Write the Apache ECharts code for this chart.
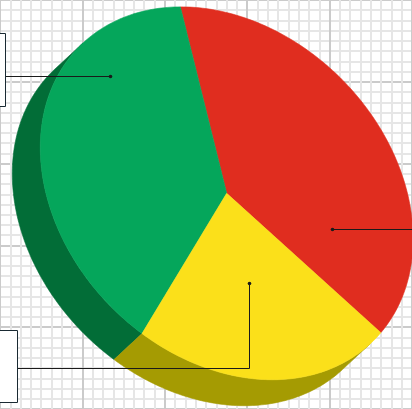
<!DOCTYPE html>
<html><head><meta charset="utf-8">
<script src="https://cdn.jsdelivr.net/npm/echarts@6/dist/echarts.min.js"></script>
<style>html,body{margin:0;padding:0;background:#fff}#c{width:412px;height:409px}</style>
</head><body><div id="c"></div>
<script>
// ---- data ----
const categories = ['Red', 'Green', 'Yellow'];
const values = [38.5, 38.5, 23.0];
const topColors = ['#E02D1F', '#05A65B', '#FBE01A'];
const sideColors = ['#9C1F14', '#026D37', '#A59B02'];
// label anchor: position within slice (0..1 of its angle) and radial fraction
const labelAnglePos = [0.794, 0.729, 0.497];
const labelRadial = [0.569, 0.795, 0.483];

// ---- pie geometry (tilted disc) ----
const PIE = {cx: 226.7, cy: 193.3, a: 208, b: 162, phi: 45, dx: -28, dy: 26, start: 356.3};
const total = values.reduce((s, v) => s + v, 0);
const spans = [];
(function () { let acc = PIE.start; values.forEach(v => { const e = acc - v / total * 360; spans.push([e, acc]); acc = e; }); })();
const ph = PIE.phi * Math.PI / 180;
const U = [Math.cos(ph), Math.sin(ph)], V = [-Math.sin(ph), Math.cos(ph)];
function P(t, f) {
  f = f == null ? 1 : f;
  const r = t * Math.PI / 180;
  const A = PIE.a * f * Math.cos(r), B = PIE.b * f * Math.sin(r);
  return [PIE.cx + A * U[0] + B * V[0], PIE.cy + A * U[1] + B * V[1]];
}
const du = PIE.dx * U[0] + PIE.dy * U[1], dv = PIE.dx * V[0] + PIE.dy * V[1];
const psi = Math.atan2(PIE.a * dv, PIE.b * du) * 180 / Math.PI;
function arc(s, e) { const pts = []; const n = Math.max(2, Math.ceil((e - s) / 1)); for (let i = 0; i <= n; i++) pts.push(P(s + (e - s) * i / n)); return pts; }

function renderWall(params, api) {
  const i = params.dataIndex; const [s, e] = spans[i];
  const children = [];
  [-360, 0, 360].forEach(k => {
    const lo = Math.max(s, psi - 90 + k), hi = Math.min(e, psi + 90 + k);
    if (hi - lo > 0.01) {
      const top = arc(lo, hi);
      const bot = top.map(p => [p[0] + PIE.dx, p[1] + PIE.dy]).reverse();
      children.push({type: 'polygon', shape: {points: top.concat(bot)}, style: {fill: sideColors[i], stroke: sideColors[i], lineWidth: 0.6}});
    }
  });
  return {type: 'group', children};
}
function renderTop(params, api) {
  const i = params.dataIndex; const [s, e] = spans[i];
  const pts = [[PIE.cx, PIE.cy]].concat(arc(s, e));
  return {type: 'polygon', shape: {points: pts}, style: {fill: topColors[i], stroke: topColors[i], lineWidth: 0.6}};
}
function renderLabel(params, api) {
  const i = params.dataIndex; const [s, e] = spans[i];
  const t = s + (e - s) * labelAnglePos[i];
  const p = P(t, labelRadial[i]);
  const x = Math.round(p[0]) + 0.5, y = Math.round(p[1]) + 0.5;
  let line, box = null;
  if (i === 0) { line = [[x, y], [430, y]]; }
  else if (i === 1) { line = [[x, y], [5, y]]; box = {x: -120, y: 33.5, width: 125.5, height: 73}; }
  else { line = [[x, y], [x, 368.5], [17, 368.5]]; box = {x: -120, y: 330.5, width: 137.5, height: 72}; }
  const ch = [
    {type: 'polyline', shape: {points: line}, style: {stroke: '#1a1a1a', lineWidth: 1, fill: null}},
    {type: 'circle', shape: {cx: x, cy: y, r: 1.8}, style: {fill: '#1a1a1a'}}
  ];
  if (box) ch.push({type: 'rect', shape: box, style: {fill: '#ffffff', stroke: '#1a2a33', lineWidth: 1}});
  return {type: 'group', children: ch};
}

const chart = echarts.init(document.getElementById('c'));
const axisCommon = {
  type: 'value', min: 0, max: 5, interval: 1,
  axisLine: {show: false}, axisTick: {show: false}, axisLabel: {show: false},
  splitLine: {show: true, lineStyle: {color: '#cbcbcb', width: 2}},
  minorTick: {show: false, splitNumber: 8},
  minorSplitLine: {show: true, lineStyle: {color: '#e6e6e6', width: 2}}
};
const data = values.map((v, i) => ({value: v, name: categories[i]}));
chart.setOption({
  animation: false,
  backgroundColor: '#ffffff',
  grid: {left: -66.3, top: -74.3, width: 516.6, height: 516.6, show: false},
  xAxis: axisCommon,
  yAxis: Object.assign({}, axisCommon),
  series: [
    {type: 'custom', coordinateSystem: 'none', z: 2, renderItem: renderWall, data: data, silent: true},
    {type: 'custom', coordinateSystem: 'none', z: 3, renderItem: renderTop, data: data, silent: true},
    {type: 'custom', coordinateSystem: 'none', z: 4, renderItem: renderLabel, data: data, silent: true}
  ]
});
</script></body></html>
